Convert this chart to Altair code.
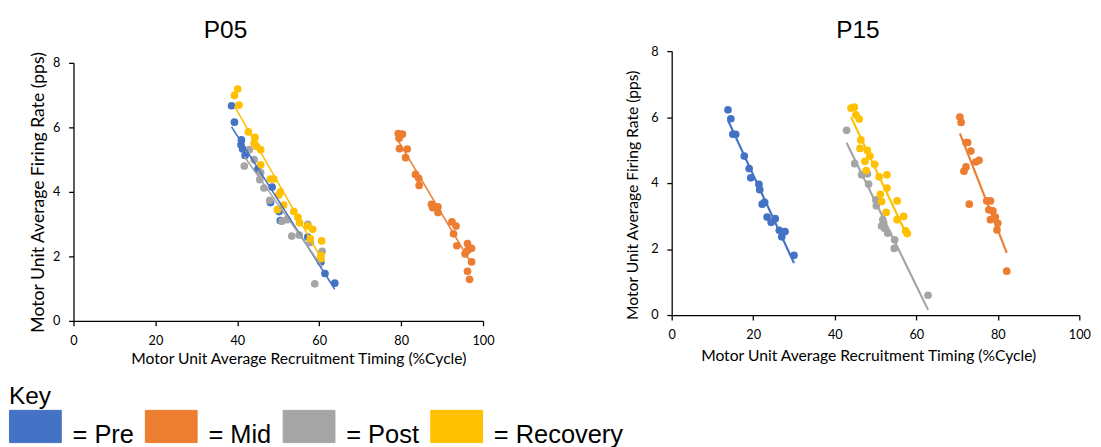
import altair as alt
import pandas as pd

SERIES = ["Pre", "Mid", "Post", "Recovery"]
COLORS = ["#4472C4", "#ED7D31", "#A5A5A5", "#FFC000"]

X_TICKS = [0, 20, 40, 60, 80, 100]
Y_TICKS = [0, 2, 4, 6, 8]

# ---- P05 ----
p05_pre_x = [38.6, 39.3, 41.0, 40.9, 41.3, 41.9, 45.0, 48.5, 48.1, 50.2, 50.5, 57.2, 60.4, 61.4, 63.8]
p05_pre_y = [6.67, 6.16, 5.61, 5.46, 5.33, 5.13, 4.70, 4.15, 3.67, 3.39, 3.11, 2.60, 1.83, 1.47, 1.17]
p05_mid_x = [79.3, 80.3, 79.5, 79.6, 81.5, 81.1, 83.5, 84.3, 84.4, 87.4, 87.7, 89.0, 89.0, 92.4, 93.4,
             92.8, 93.6, 96.2, 97.2, 95.6, 96.2, 97.2, 96.2, 96.7]
p05_mid_y = [5.81, 5.79, 5.66, 5.34, 5.33, 5.06, 4.54, 4.42, 4.20, 3.61, 3.51, 3.54, 3.36, 3.07, 2.94,
             2.70, 2.33, 2.40, 2.25, 2.08, 2.18, 1.83, 1.54, 1.29]
p05_post_x = [41.7, 42.9, 44.1, 45.5, 45.7, 46.5, 47.9, 50.9, 52.1, 53.3, 55.1, 57.2, 57.8, 58.9, 60.7]
p05_post_y = [4.80, 5.31, 5.00, 4.38, 4.60, 4.12, 3.74, 3.09, 3.14, 2.63, 2.66, 2.99, 2.43, 1.15, 2.16]
p05_rec_x = [39.3, 40.1, 40.4, 42.7, 44.3, 44.1, 44.7, 45.7, 45.7, 48.1, 48.9, 50.5, 50.1, 49.8, 51.3,
             53.8, 54.8, 55.2, 57.2, 58.4, 57.8, 60.6, 60.4, 60.4]
p05_rec_y = [6.99, 7.19, 6.69, 5.86, 5.69, 5.51, 5.41, 5.31, 4.84, 4.40, 4.40, 4.00, 3.90, 3.45, 3.59,
             3.39, 3.21, 3.04, 2.94, 2.84, 2.55, 2.48, 2.03, 1.93]

# ---- P15 ----
p15_pre_x = [13.8, 14.5, 15.0, 15.7, 17.8, 19.0, 19.4, 21.4, 21.6, 22.2, 22.8, 23.4, 24.4, 25.4, 26.4,
             27.0, 27.8, 30.0]
p15_pre_y = [6.22, 5.95, 5.48, 5.48, 4.82, 4.44, 4.16, 3.96, 3.80, 3.36, 3.42, 2.97, 2.81, 2.92, 2.57,
             2.37, 2.53, 1.81]
p15_mid_x = [70.7, 71.0, 72.6, 72.2, 73.4, 72.2, 71.7, 74.6, 75.4, 73.0, 77.3, 78.2, 77.8, 78.8, 78.2,
             79.4, 80.0, 79.8, 82.2]
p15_mid_y = [6.00, 5.84, 5.23, 5.23, 4.97, 4.49, 4.36, 4.64, 4.69, 3.36, 3.46, 3.46, 3.19, 3.16, 2.89,
             2.97, 2.78, 2.58, 1.33]
p15_post_x = [42.9, 44.9, 46.6, 48.0, 48.3, 50.1, 50.2, 51.8, 52.0, 51.5, 52.2, 53.0, 54.7, 54.6, 62.9]
p15_post_y = [5.60, 4.59, 4.25, 4.28, 3.97, 3.49, 3.31, 2.89, 2.79, 2.70, 2.63, 2.48, 2.28, 2.02, 0.60]
p15_rec_x = [44.0, 44.8, 45.2, 46.0, 46.4, 46.2, 48.0, 47.4, 48.6, 47.7, 49.8, 50.9, 52.8, 52.8, 51.2,
             51.5, 55.3, 52.6, 55.3, 56.9, 57.4, 57.8]
p15_rec_y = [6.27, 6.30, 6.07, 5.94, 5.31, 5.05, 4.99, 4.66, 4.82, 4.38, 4.57, 4.19, 4.25, 3.85, 3.66,
             3.44, 3.46, 3.11, 2.89, 2.99, 2.55, 2.47]


def frame(groups):
    rows = []
    for s, (xs, ys) in zip(SERIES, groups):
        for xv, yv in zip(xs, ys):
            rows.append({"series": s, "x": xv, "y": yv})
    return pd.DataFrame(rows)


df05 = frame([(p05_pre_x, p05_pre_y), (p05_mid_x, p05_mid_y),
              (p05_post_x, p05_post_y), (p05_rec_x, p05_rec_y)])
df15 = frame([(p15_pre_x, p15_pre_y), (p15_mid_x, p15_mid_y),
              (p15_post_x, p15_post_y), (p15_rec_x, p15_rec_y)])

# legend swatch: 53 x 33 px box starting at the entry's left edge (symbolSize 1089 -> unit = 16.5 px)
RECT = "M-1,-0.758L2.212,-0.758L2.212,1.242L-1,1.242Z"

KEY_LEGEND = alt.Legend(
    title="Key", orient="none", legendX=-66, legendY=341,
    direction="horizontal", columns=4,
    symbolType=RECT, symbolSize=1089,
    symbolStrokeColor="black", symbolStrokeWidth=1, symbolOpacity=1,
    labelExpr="'= ' + datum.label", labelFont="Liberation Sans",
    labelFontSize=26, labelColor="black", labelBaseline="top",
    labelOffset=31, columnPadding=9, labelLimit=300,
    titleFont="Liberation Sans", titleFontSize=25,
    titleFontWeight="normal", titleColor="black", titlePadding=-3,
)


def panel(df, title, t_offset, t_dx, w, h, ytitle, yfs, ytp, xtp, xtx, yty, line_w):
    base = alt.Chart(df)
    x = alt.X("x:Q", scale=alt.Scale(domain=[0, 100], nice=False),
              axis=alt.Axis(values=X_TICKS, title="Motor Unit Average Recruitment Timing (%Cycle)",
                            titlePadding=xtp, titleX=xtx))
    yaxis = dict(values=Y_TICKS, title=ytitle, titleFontSize=yfs, titlePadding=ytp)
    if yty is not None:
        yaxis["titleY"] = yty
    y = alt.Y("y:Q", scale=alt.Scale(domain=[0, 8], nice=False), axis=alt.Axis(**yaxis))
    color = alt.Color("series:N", scale=alt.Scale(domain=SERIES, range=COLORS), legend=KEY_LEGEND)
    pts = base.mark_circle(size=62, opacity=1, stroke="black", strokeWidth=1,
                           strokeOpacity=0).encode(x=x, y=y, color=color)
    lines = base.transform_regression("x", "y", groupby=["series"]).mark_line(
        strokeWidth=line_w).encode(x="x:Q", y="y:Q", color=color)
    return alt.layer(pts, lines).properties(
        width=w, height=h,
        title=alt.TitleParams(title, fontSize=25, font="Liberation Sans", fontWeight="normal",
                              color="black", offset=t_offset, dx=t_dx, anchor="middle"))


left = panel(df05, "P05", 6, -54, 419, 264, "Motor Unit Average Firing Rate  (pps)", 18, 5, 4,
             230, None, 1.6)
right = panel(df15, "P15", 2, -18, 417, 270, "Motor Unit Average Firing Rate (pps)", 16, 10, 7,
              201, 147, 2.2)

spacer = alt.Chart(pd.DataFrame({"v": [0]})).mark_point(opacity=0).encode(
    x=alt.value(0), y=alt.value(0)).properties(width=419, height=1)
left_col = alt.vconcat(spacer, left, spacing=11, bounds="flush")

chart = alt.hconcat(left_col, right, spacing=133).properties(
    padding={"left": 1, "top": 5, "right": 2, "bottom": 0}
).configure_view(stroke=None).configure_axis(
    grid=False, domainColor="black", domainWidth=1.3, tickColor="black", tickWidth=1.3,
    tickSize=5, labelFont="Lato", labelFontSize=13, labelColor="black", labelPadding=9,
    labelFlush=False, titleFont="Lato", titleFontSize=16, titleFontWeight="normal",
    titleColor="black"
)

chart.save("out.html", embed_options={"renderer": "svg", "actions": False})
